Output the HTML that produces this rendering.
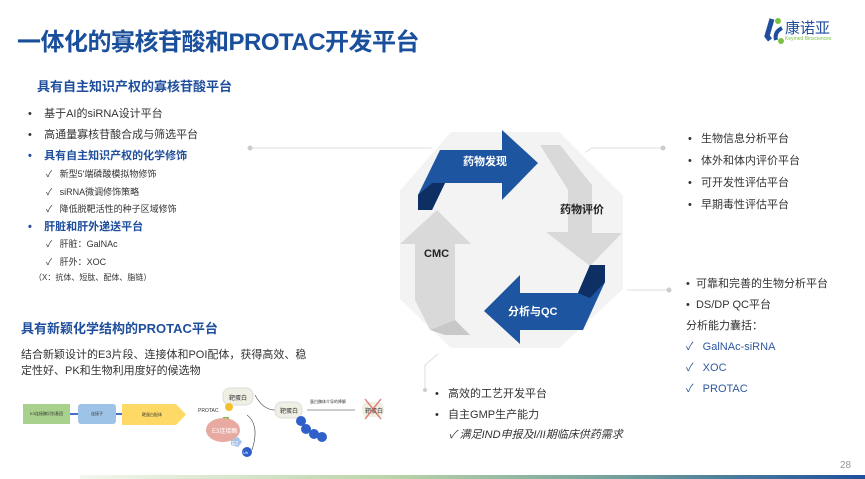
<!DOCTYPE html>
<html><head><meta charset="utf-8"><style>
*{margin:0;padding:0;box-sizing:border-box}
body{width:865px;height:479px;background:#fff;position:relative;overflow:hidden;font-family:"Liberation Sans","Noto Sans CJK SC",sans-serif;color:#333}
.a{position:absolute;white-space:nowrap}
.b{color:#1f4e9c;font-weight:bold}
</style></head><body>
<div class="a" style="left:17px;top:22px;font-size:24px;font-weight:bold;color:#1a4f9c;letter-spacing:-0.5px">一体化的寡核苷酸和PROTAC开发平台</div>
<svg class="a" style="left:762px;top:16px" width="24" height="30"><path d="M10 3 L5 20 L8 24" stroke="#1f4e9c" stroke-width="5" fill="none"/><path d="M20 12 Q12 16 14 24" stroke="#1f4e9c" stroke-width="4" fill="none"/><circle cx="16" cy="5" r="3" fill="#7cc242"/><circle cx="19" cy="25" r="3" fill="#7cc242"/></svg>
<div class="a" style="left:785px;top:17px;font-size:15px;color:#1f4e9c">康诺亚</div>
<div class="a" style="left:785px;top:36px;font-size:5px;color:#7cc242">Keymed Biosciences</div>

<div class="a b" style="left:37px;top:76px;font-size:13px">具有自主知识产权的寡核苷酸平台</div>
<div class="a" style="left:28px;top:104px;font-size:11px;line-height:21px">•&nbsp;&nbsp;&nbsp;&nbsp;基于AI的siRNA设计平台<br>•&nbsp;&nbsp;&nbsp;&nbsp;高通量寡核苷酸合成与筛选平台<br><span class="b">•&nbsp;&nbsp;&nbsp;&nbsp;具有自主知识产权的化学修饰</span></div>
<div class="a" style="left:46px;top:166px;font-size:9px;line-height:17.5px">✓&nbsp;&nbsp;&nbsp;新型5'端磷酸模拟物修饰<br>✓&nbsp;&nbsp;&nbsp;siRNA微调修饰策略<br>✓&nbsp;&nbsp;&nbsp;降低脱靶活性的种子区域修饰</div>
<div class="a b" style="left:28px;top:218px;font-size:11px">•&nbsp;&nbsp;&nbsp;&nbsp;肝脏和肝外递送平台</div>
<div class="a" style="left:46px;top:236px;font-size:9px;line-height:17.5px">✓&nbsp;&nbsp;&nbsp;肝脏：GalNAc<br>✓&nbsp;&nbsp;&nbsp;肝外：XOC</div>
<div class="a" style="left:34px;top:272px;font-size:8px">（X：抗体、短肽、配体、脂链）</div>
<div class="a b" style="left:21px;top:318px;font-size:13px">具有新颖化学结构的PROTAC平台</div>
<div class="a" style="left:21px;top:347px;font-size:11px;line-height:16px">结合新颖设计的E3片段、连接体和POI配体，获得高效、稳<br>定性好、PK和生物利用度好的候选物</div>

<!-- PROTAC schematic -->
<div class="a" style="left:23px;top:404px;width:47px;height:20px;background:#a9d18e;font-size:4px;line-height:20px;text-align:center">E3连接酶识别基团</div>
<div class="a" style="left:70px;top:413px;width:8px;height:2px;background:#4472c4"></div>
<div class="a" style="left:78px;top:404px;width:38px;height:20px;background:#9dc3e6;border-radius:3px;font-size:4px;line-height:20px;text-align:center">连接子</div>
<div class="a" style="left:116px;top:413px;width:6px;height:2px;background:#4472c4"></div>
<svg class="a" style="left:122px;top:404px" width="66" height="21"><polygon points="0,0 54,0 64,10.5 54,21 0,21" fill="#ffd966"/><text x="20" y="12" font-size="4" fill="#333">靶蛋白配体</text></svg>
<svg class="a" style="left:195px;top:385px" width="210" height="80">
<text x="3" y="27" font-size="5" fill="#333">PROTAC</text>
<rect x="28" y="3" width="30" height="17" rx="7" fill="#f0efe4" stroke="#ddd"/><text x="34" y="15" font-size="6" fill="#333">靶蛋白</text>
<circle cx="34" cy="22" r="4" fill="#f2c12e"/><rect x="28" y="32" width="6" height="6" fill="#7ac143"/>
<ellipse cx="28" cy="45" rx="17" ry="12" fill="#e8a9a1"/><text x="17" y="48" font-size="6" fill="#fff">E3连接酶</text>
<polygon points="36,55 43,52 47,57 43,62 36,60" fill="#a9c4ec"/><text x="37" y="60" font-size="5" fill="#fff">E2</text>
<circle cx="52" cy="67" r="5" fill="#2f5fc8"/><text x="48" y="69" font-size="4" fill="#fff">Ub</text>
<path d="M57 65 Q65 40 52 30" stroke="#555" fill="none" stroke-width="0.7"/>
<path d="M60 10 Q68 25 80 25" stroke="#555" fill="none" stroke-width="0.7"/>
<rect x="80" y="17" width="27" height="16" rx="7" fill="#f0efe4" stroke="#ddd"/><text x="85" y="28" font-size="6" fill="#333">靶蛋白</text>
<circle cx="106" cy="36" r="5" fill="#2f5fc8"/><circle cx="111" cy="44" r="5" fill="#2f5fc8"/><circle cx="119" cy="49" r="5" fill="#2f5fc8"/><circle cx="127" cy="52" r="5" fill="#2f5fc8"/>
<text x="115" y="18" font-size="4" fill="#333">蛋白酶体介导的降解</text>
<line x1="112" y1="25" x2="160" y2="25" stroke="#333" stroke-width="0.6"/>
<rect x="167" y="17" width="22" height="15" rx="6" fill="#f0efe4"/><text x="170" y="28" font-size="6" fill="#333">靶蛋白</text>
<path d="M170 14 L186 34 M186 14 L170 34" stroke="#d9534f" stroke-width="1.5" opacity="0.7"/>
</svg>

<svg class="a" style="left:0;top:0" width="865" height="479">
<g stroke="#ddd" stroke-width="1" fill="none">
<path d="M250 148 L445 148 L455 156"/>
<path d="M581 155 L592 148 L663 148"/>
<path d="M605 282 L612 290 L669 290"/>
<path d="M438 354 L425 365 L425 390"/>
</g>
<circle cx="250" cy="148" r="2.5" fill="#ccc"/><circle cx="663" cy="148" r="2.5" fill="#ccc"/><circle cx="669" cy="290" r="2.5" fill="#ccc"/><circle cx="425" cy="390" r="2" fill="#ccc"/>
<polygon points="450,130 560,130 625,195 625,290 560,350 450,350 398,300 398,190" fill="#f3f3f3" stroke="#fff" stroke-width="4"/>
<polygon points="540,145 560,145 592,185 592,233 622,233 590,266 546,232 568,232 568,190" fill="#d9d9d9"/>
<polygon points="437,210 471,244 455,244 455,320 470,335 430,330 415,300 415,244 400,244" fill="#d9d9d9"/>
<polygon points="455,320 470,335 445,335 430,330" fill="#c8c8c8"/>
<polygon points="418,195 440,150 502,150 502,130 538,163 502,200 502,183 445,183 432,210 418,210" fill="#1d55a0"/>
<polygon points="418,195 432,183 445,183 432,210 418,210" fill="#0d2f63"/>
<polygon points="605,265 605,282 583,330 520,330 520,344 484,311 520,275 520,293 578,293 590,265" fill="#1d55a0"/>
<polygon points="605,265 605,282 590,298 578,293 590,265" fill="#0d2f63"/>
</svg>
<div class="a" style="left:463px;top:153px;font-size:11px;font-weight:bold;color:#fff">药物发现</div>
<div class="a" style="left:560px;top:201px;font-size:11px;font-weight:bold;color:#222">药物评价</div>
<div class="a" style="left:424px;top:248px;font-size:11px;font-weight:bold;color:#222">CMC</div>
<div class="a" style="left:508px;top:303px;font-size:11px;font-weight:bold;color:#fff">分析与QC</div>

<div class="a" style="left:688px;top:128px;font-size:11px;line-height:22px">•&nbsp;&nbsp;&nbsp;生物信息分析平台<br>•&nbsp;&nbsp;&nbsp;体外和体内评价平台<br>•&nbsp;&nbsp;&nbsp;可开发性评估平台<br>•&nbsp;&nbsp;&nbsp;早期毒性评估平台</div>
<div class="a" style="left:686px;top:274px;font-size:11px;line-height:21px">•&nbsp;&nbsp;可靠和完善的生物分析平台<br>•&nbsp;&nbsp;DS/DP QC平台<br>分析能力囊括：</div>
<div class="a" style="left:686px;top:337px;font-size:11px;line-height:21px;color:#2f5a9e">✓&nbsp;&nbsp;&nbsp;GalNAc-siRNA<br>✓&nbsp;&nbsp;&nbsp;XOC<br>✓&nbsp;&nbsp;&nbsp;PROTAC</div>
<div class="a" style="left:435px;top:384px;font-size:11px;line-height:21px">•&nbsp;&nbsp;&nbsp;高效的工艺开发平台<br>•&nbsp;&nbsp;&nbsp;自主GMP生产能力</div>
<div class="a" style="left:449px;top:426px;font-size:11px;font-style:italic">✓&nbsp;满足IND申报及I/II期临床供药需求</div>
<div class="a" style="left:840px;top:460px;font-size:10px;color:#999">28</div>
<div class="a" style="left:80px;top:475px;width:785px;height:4px;background:linear-gradient(90deg,#f3f7ee,#b9d3a8 40%,#6f9d9a 70%,#1d4f9c)"></div>
</body></html>
